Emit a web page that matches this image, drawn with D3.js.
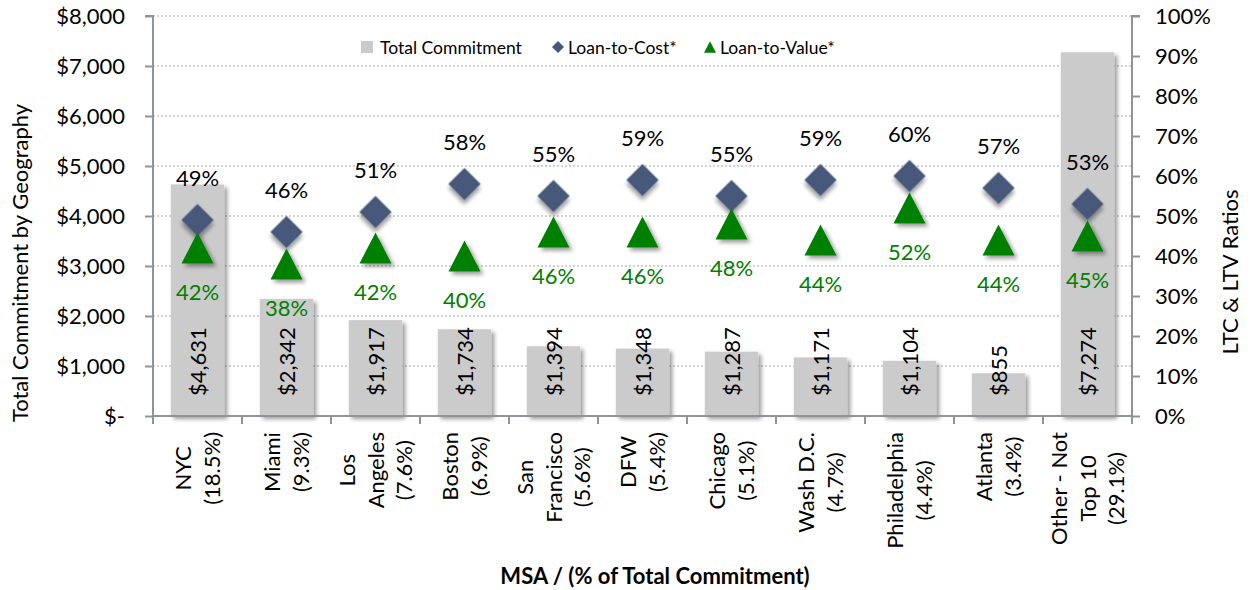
<!DOCTYPE html>
<html>
<head>
<meta charset="utf-8">
<script src="https://cdn.jsdelivr.net/npm/d3@7"></script>
<style>
  body { margin: 0; background: #fff; }
  svg text { font-family: Lato, "Open Sans", sans-serif; fill: #000; }
</style>
</head>
<body>
<svg id="chart" width="1251" height="590"></svg>
<script>
const categories = [
    ["NYC", "(18.5%)"],
    ["Miami", "(9.3%)"],
    ["Los", "Angeles", "(7.6%)"],
    ["Boston", "(6.9%)"],
    ["San", "Francisco", "(5.6%)"],
    ["DFW", "(5.4%)"],
    ["Chicago", "(5.1%)"],
    ["Wash D.C.", "(4.7%)"],
    ["Philadelphia", "(4.4%)"],
    ["Atlanta", "(3.4%)"],
    ["Other - Not", "Top 10", "(29.1%)"]
];
const commitment = [4631, 2342, 1917, 1734, 1394, 1348, 1287, 1171, 1104, 855, 7274];
const loanToCost = [49, 46, 51, 58, 55, 59, 55, 59, 60, 57, 53];
const loanToValue = [42, 38, 42, 40, 46, 46, 48, 44, 52, 44, 45];
const leftTicks = [0, 1000, 2000, 3000, 4000, 5000, 6000, 7000, 8000];
const rightTicks = [0, 10, 20, 30, 40, 50, 60, 70, 80, 90, 100];

const BAR = "#cccbcc", LTC = "#46597a", LTV = "#008000", AXIS = "#8f949c";
const FS = "22px";

const pLeft = 153, pRight = 1132, pTop = 16, pBottom = 416;
const svg = d3.select("#chart");

// shadow like the excel one
const defs = svg.append("defs");
const f = defs.append("filter").attr("id", "shadow")
    .attr("x", "-30%").attr("y", "-30%").attr("width", "160%").attr("height", "160%");
f.append("feDropShadow").attr("dx", 3).attr("dy", 3).attr("stdDeviation", 2)
    .attr("flood-color", "#000").attr("flood-opacity", 0.4);

const idx = categories.map((d, i) => i);
const x = d3.scaleBand().domain(idx).range([pLeft, pRight]).paddingInner(0.4).paddingOuter(0.2);
const y = d3.scaleLinear().domain([0, 8000]).range([pBottom, pTop]);
const y2 = d3.scaleLinear().domain([0, 100]).range([pBottom, pTop]);
const step = x.step();
const cx = i => x(i) + x.bandwidth() / 2;

// gridlines
svg.append("g").selectAll("line")
    .data(leftTicks.filter(t => t > 0))
    .enter().append("line")
    .attr("x1", pLeft).attr("x2", pRight)
    .attr("y1", d => y(d)).attr("y2", d => y(d))
    .attr("stroke", "#a6a6a6").attr("stroke-width", 1.2)
    .attr("stroke-dasharray", "2,2");

// bars
svg.append("g").selectAll("rect")
    .data(idx)
    .enter().append("rect")
    .attr("x", d => x(d))
    .attr("y", d => y(commitment[d]))
    .attr("width", x.bandwidth())
    .attr("height", d => pBottom - y(commitment[d]))
    .attr("fill", BAR)
    .attr("filter", "url(#shadow)");

// axes
const axisL = svg.append("g").attr("transform", `translate(${pLeft},0)`)
    .call(d3.axisLeft(y).tickValues(leftTicks).tickSize(8).tickPadding(20)
        .tickFormat(d => d === 0 ? "$-" : "$" + d3.format(",")(d)));
const axisR = svg.append("g").attr("transform", `translate(${pRight},0)`)
    .call(d3.axisRight(y2).tickValues(rightTicks).tickSize(8).tickPadding(15)
        .tickFormat(d => d + "%"));
[axisL, axisR].forEach(a => {
    a.select(".domain").attr("stroke", AXIS).attr("stroke-width", 2);
    a.selectAll(".tick line").attr("stroke", AXIS).attr("stroke-width", 2);
    a.selectAll(".tick text").style("font-size", FS).attr("fill", "#000");
});
axisL.select(".domain").attr("d", `M-8,${pTop}H0V${pBottom}`);
axisR.select(".domain").attr("d", `M8,${pTop}H0V${pBottom}`);

// bottom axis with ticks between categories
svg.append("line").attr("x1", pLeft).attr("x2", pRight)
    .attr("y1", pBottom).attr("y2", pBottom)
    .attr("stroke", AXIS).attr("stroke-width", 2);
svg.append("g").selectAll("line")
    .data(d3.range(categories.length + 1))
    .enter().append("line")
    .attr("x1", d => pLeft + d * step).attr("x2", d => pLeft + d * step)
    .attr("y1", pBottom).attr("y2", pBottom + 8)
    .attr("stroke", AXIS).attr("stroke-width", 2);

// category labels, rotated, lines centred
const lineH = 28.5;
const catG = svg.append("g");
categories.forEach((lines, i) => {
    const g = catG.append("g");
    const texts = lines.map((s, k) => g.append("text")
        .attr("text-anchor", "middle")
        .style("font-size", FS)
        .text(s));
    const maxLen = d3.max(texts, t => t.node().getComputedTextLength());
    const mid = 432 + maxLen / 2;
    texts.forEach((t, k) => {
        const off = (k - (lines.length - 1) / 2) * lineH;
        t.attr("transform", `translate(${cx(i) + off + 8},${mid}) rotate(-90)`);
    });
});

// bar value labels
svg.append("g").selectAll("text")
    .data(idx)
    .enter().append("text")
    .attr("transform", d => `translate(${cx(d) + 8},396) rotate(-90)`)
    .attr("text-anchor", "start")
    .style("font-size", FS)
    .text(d => "$" + d3.format(",")(commitment[d]));

// markers
const diamond = d3.symbol().type(d3.symbolSquare).size(520);
svg.append("g").selectAll("path")
    .data(idx)
    .enter().append("path")
    .attr("d", diamond)
    .attr("transform", d => `translate(${cx(d)},${y2(loanToCost[d])}) rotate(45)`)
    .attr("fill", LTC)
    .attr("filter", "url(#shadow)");

// excel style triangle: 32 wide, 31 tall, centred on its box
const boxTriangle = {
    draw(ctx, size) {
        const w = Math.sqrt(size), h = w * 31 / 32;
        ctx.moveTo(0, -h / 2);
        ctx.lineTo(w / 2, h / 2);
        ctx.lineTo(-w / 2, h / 2);
        ctx.closePath();
    }
};
svg.append("g").selectAll("path")
    .data(idx)
    .enter().append("path")
    .attr("d", d3.symbol().type(boxTriangle).size(32 * 32))
    .attr("transform", d => `translate(${cx(d)},${y2(loanToValue[d])})`)
    .attr("fill", LTV)
    .attr("filter", "url(#shadow)");

// ratio labels
svg.append("g").selectAll("text")
    .data(idx)
    .enter().append("text")
    .attr("x", d => cx(d))
    .attr("y", d => y2(loanToCost[d]) - 34)
    .attr("text-anchor", "middle")
    .style("font-size", FS)
    .text(d => loanToCost[d] + "%");

svg.append("g").selectAll("text")
    .data(idx)
    .enter().append("text")
    .attr("x", d => cx(d))
    .attr("y", d => y2(loanToValue[d]) + 52)
    .attr("text-anchor", "middle")
    .style("font-size", FS)
    .style("fill", LTV)
    .text(d => loanToValue[d] + "%");

// axis titles
svg.append("text")
    .attr("transform", `translate(28,263) rotate(-90)`)
    .attr("text-anchor", "middle")
    .style("font-size", FS)
    .text("Total Commitment by Geography");
svg.append("text")
    .attr("transform", `translate(1238,272) rotate(-90)`)
    .attr("text-anchor", "middle")
    .style("font-size", FS)
    .text("LTC & LTV Ratios");
svg.append("text")
    .attr("x", 655).attr("y", 584)
    .attr("text-anchor", "middle")
    .style("font-size", FS)
    .style("font-weight", "bold")
    .text("MSA / (% of Total Commitment)");

// legend
const leg = svg.append("g").style("font-size", "17.5px");
leg.append("rect").attr("x", 361).attr("y", 41).attr("width", 12).attr("height", 12).attr("fill", BAR);
leg.append("text").attr("x", 380).attr("y", 54).text("Total Commitment");
leg.append("path").attr("d", d3.symbol().type(d3.symbolSquare).size(72))
    .attr("transform", "translate(558,47) rotate(45)").attr("fill", LTC);
leg.append("text").attr("x", 568).attr("y", 54).text("Loan-to-Cost*");
leg.append("path").attr("d", d3.symbol().type(boxTriangle).size(144))
    .attr("transform", "translate(710,47)").attr("fill", LTV);
leg.append("text").attr("x", 720).attr("y", 54).text("Loan-to-Value*");
</script>
</body>
</html>
